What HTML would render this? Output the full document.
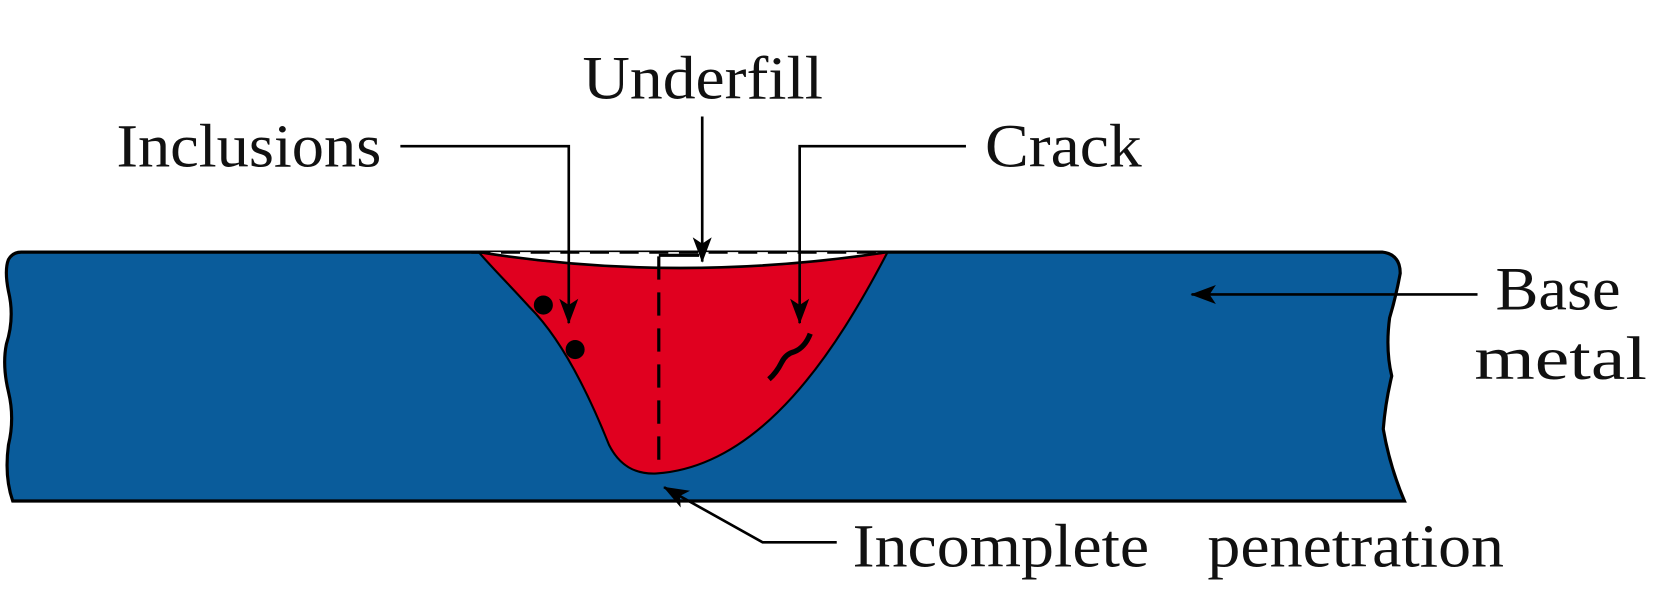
<!DOCTYPE html>
<html><head><style>body{margin:0;background:#fff}svg{display:block}</style></head><body>
<svg width="1665" height="590" viewBox="0 0 1572 557" xmlns="http://www.w3.org/2000/svg">
<defs>
<marker id="b" viewBox="0 0 24 20" markerWidth="24" markerHeight="20" refX="23" refY="10" orient="auto" markerUnits="userSpaceOnUse"><path d="M0,1 L24,10 L0,19 L6,10 Z" fill="#000"/></marker></defs>
<path d="M20,238 L1305,238 Q1322,240 1322,258 Q1318,280 1312,300 Q1308,330 1314,355 Q1308,380 1306,405 Q1312,440 1326,473 L12,473 Q4,450 8,420 Q14,395 8,370 Q2,345 6,325 Q14,300 8,275 Q4,255 8,245 Q12,238 20,238 Z" fill="#0a5c9b" stroke="#000" stroke-width="3"/>
<path d="M452,238 Q640,268 838,238 C790,330 720,440 620,447 C600,448 585,440 575,420 C555,370 530,320 500,290 C480,268 462,250 452,238 Z" fill="#e0001f" stroke="#000" stroke-width="2"/>
<path d="M452,238 Q640,268 838,238" fill="#fff" stroke="#000" stroke-width="2.5"/>
<line x1="445" y1="238" x2="838" y2="238" stroke="#000" stroke-width="3" stroke-dasharray="18,10"/>
<line x1="622" y1="242" x2="622" y2="445" stroke="#000" stroke-width="3" stroke-dasharray="22,12"/>
<line x1="622" y1="241" x2="660" y2="241" stroke="#000" stroke-width="3"/>
<circle cx="513" cy="288" r="9"/><circle cx="543" cy="330" r="9"/>
<path d="M765,315 Q760,328 750,332 Q742,334 738,342 Q733,352 726,358" fill="none" stroke="#000" stroke-width="5"/>
<g font-family="Liberation Serif, serif" font-size="58" fill="#111">
<text x="110" y="157" textLength="250" lengthAdjust="spacingAndGlyphs">Inclusions</text>
<text x="550" y="93" textLength="227" lengthAdjust="spacingAndGlyphs">Underfill</text>
<text x="930" y="157" textLength="148" lengthAdjust="spacingAndGlyphs">Crack</text>
<text x="1412" y="292" textLength="118" lengthAdjust="spacingAndGlyphs">Base</text>
<text x="1392" y="358" textLength="163" lengthAdjust="spacingAndGlyphs">metal</text>
<text x="805" y="535" textLength="280" lengthAdjust="spacingAndGlyphs">Incomplete</text>
<text x="1140" y="535" textLength="280" lengthAdjust="spacingAndGlyphs">penetration</text>
</g>
<g stroke="#000" stroke-width="2.5" fill="none">
<polyline points="378,138 537,138 537,305" marker-end="url(#b)"/>
<polyline points="663,110 663,247" marker-end="url(#b)"/>
<polyline points="912,138 755,138 755,305" marker-end="url(#b)"/>
<polyline points="1395,278 1125,278" marker-end="url(#b)"/>
<polyline points="790,512 720,512 627,460" marker-end="url(#b)"/>
</g>
</svg>
</body></html>
